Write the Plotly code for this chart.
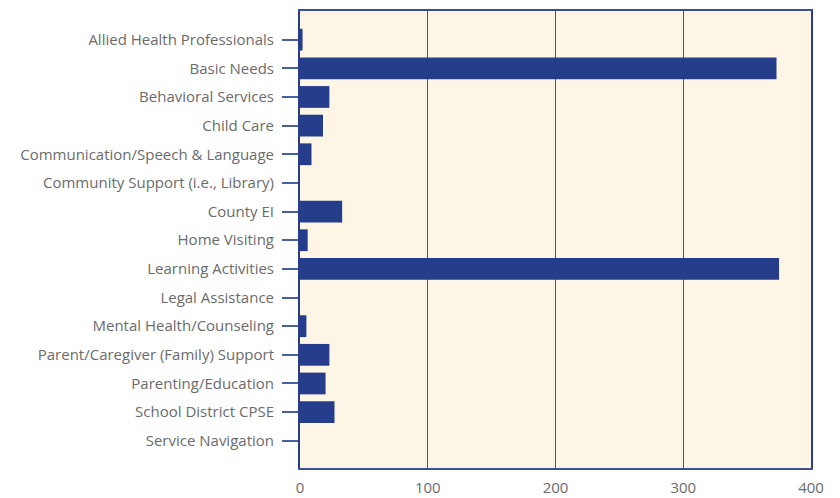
import plotly.graph_objects as go

categories = [
    "Allied Health Professionals",
    "Basic Needs",
    "Behavioral Services",
    "Child Care",
    "Communication/Speech & Language",
    "Community Support (i.e., Library)",
    "County EI",
    "Home Visiting",
    "Learning Activities",
    "Legal Assistance",
    "Mental Health/Counseling",
    "Parent/Caregiver (Family) Support",
    "Parenting/Education",
    "School District CPSE",
    "Service Navigation",
]
values = [2, 373, 23, 18, 9, 0, 33, 6, 375, 0, 5, 23, 20, 27, 0]
x_ticks = [0, 100, 200, 300, 400]

bar_color = "#263d8b"
text_color = "#6b6b6b"

fig = go.Figure(
    go.Bar(
        x=values,
        y=categories,
        orientation="h",
        marker=dict(color=bar_color, line=dict(width=0)),
    )
)

fig.update_layout(
    width=832,
    height=490,
    margin=dict(l=292, r=29, t=1, b=29),
    paper_bgcolor="white",
    plot_bgcolor="#fdf6e7",
    bargap=0.24,
    showlegend=False,
    font=dict(family="Open Sans", size=15, color=text_color),
)

fig.update_xaxes(
    range=[0, 400],
    tickvals=x_ticks,
    showgrid=True,
    gridcolor="#3d55a5",
    gridwidth=1.3,
    showline=True,
    linecolor="#3b4f95",
    linewidth=2,
    mirror=True,
    zeroline=False,
    ticks="",
    ticklabelstandoff=5,
    tickfont=dict(size=15, color=text_color),
)

fig.update_yaxes(
    type="category",
    categoryorder="array",
    categoryarray=categories,
    range=[14.95, -1.0],
    showgrid=False,
    showline=True,
    linecolor="#263d8b",
    linewidth=2,
    mirror=True,
    ticks="outside",
    ticklen=16,
    tickcolor="#4a5fa0",
    tickwidth=2,
    ticklabelstandoff=5,
    tickfont=dict(size=15, color=text_color),
)

fig.write_html("out.html")
